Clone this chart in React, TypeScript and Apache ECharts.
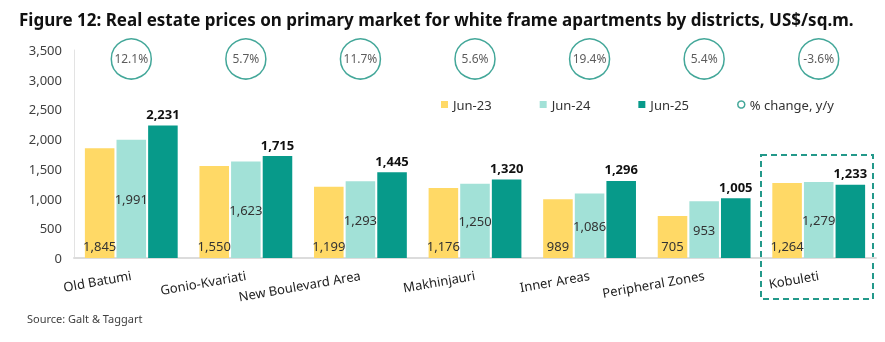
import React, { useEffect, useRef } from "react";
import * as echarts from "echarts";

const categories = ["Old Batumi", "Gonio-Kvariati", "New Boulevard Area", "Makhinjauri", "Inner Areas", "Peripheral Zones", "Kobuleti"];
const jun23 = [1845, 1550, 1199, 1176, 989, 705, 1264];
const jun24 = [1991, 1623, 1293, 1250, 1086, 953, 1279];
const jun25 = [2231, 1715, 1445, 1320, 1296, 1005, 1233];
const pctChange = ["12.1%", "5.7%", "11.7%", "5.6%", "19.4%", "5.4%", "-3.6%"];
const circleLevel = 3350;

const FONT = "Noto Sans";
const CIRCLE = "#14917F";
const fmt = (v: number) => v.toLocaleString("en-US");

export default function App() {
  const ref = useRef<HTMLDivElement>(null);
  useEffect(() => {
    if (!ref.current) return;
    const chart = echarts.init(ref.current, null, { renderer: "svg" });
    chart.setOption({
      animation: false,
      textStyle: { fontFamily: FONT },
      title: {
        text: "Figure 12: Real estate prices on primary market for white frame apartments by districts, US$/sq.m.",
        left: 14,
        top: 6,
        textStyle: { fontFamily: FONT, fontSize: 17, fontWeight: "bold", color: "#111" },
      },
      legend: {
        left: 436,
        top: 93,
        itemWidth: 7,
        itemHeight: 7,
        itemGap: 48,
        textStyle: { fontSize: 13, color: "#333", fontFamily: FONT },
        data: [
          { name: "Jun-23", icon: "rect" },
          { name: "Jun-24", icon: "rect" },
          { name: "Jun-25", icon: "rect" },
          { name: "% change, y/y", icon: "circle", itemStyle: { color: "#fff", borderColor: CIRCLE, borderWidth: 1.5 } },
        ],
      },
      grid: { left: 74, right: 9, top: 50, bottom: 84, containLabel: false },
      xAxis: {
        type: "category",
        data: categories,
        axisLine: { show: true, lineStyle: { color: "#dcdcdc", width: 2 } },
        axisTick: { show: false },
        axisLabel: { rotate: 10, fontSize: 13, color: "#222", margin: 17, interval: 0 },
      },
      yAxis: {
        type: "value",
        min: 0,
        max: 3500,
        interval: 500,
        axisLine: { show: true, lineStyle: { color: "#e3e3e3", width: 1 } },
        axisTick: { show: false },
        splitLine: { show: false },
        axisLabel: { fontSize: 13, color: "#404040", margin: 12, formatter: (v: number) => fmt(v) },
      },
      series: [
        {
          name: "Jun-23",
          type: "bar",
          data: jun23,
          barGap: "7%",
          barCategoryGap: "19%",
          itemStyle: { color: "#FFD966" },
          label: { show: true, position: "insideBottom", distance: 6, fontSize: 13, color: "#333", formatter: (p: any) => fmt(p.value) },
        },
        {
          name: "Jun-24",
          type: "bar",
          data: jun24,
          barGap: "7%",
          barCategoryGap: "19%",
          itemStyle: { color: "#A2E1D7" },
          label: { show: true, position: "inside", fontSize: 13, color: "#333", formatter: (p: any) => fmt(p.value) },
        },
        {
          name: "Jun-25",
          type: "bar",
          data: jun25,
          barGap: "7%",
          barCategoryGap: "19%",
          itemStyle: { color: "#079A8A" },
          label: { show: true, position: "top", distance: 5, fontSize: 13, fontWeight: "bold", color: "#111", formatter: (p: any) => fmt(p.value) },
        },
        {
          name: "% change, y/y",
          type: "scatter",
          clip: false,
          symbol: "circle",
          symbolSize: 40,
          data: pctChange.map((_, i) => [i, circleLevel]),
          itemStyle: { color: "#fff", borderColor: CIRCLE, borderWidth: 1.5 },
          label: { show: true, position: "inside", fontSize: 12, color: "#333", formatter: (p: any) => pctChange[p.dataIndex] },
          z: 5,
        },
      ],
      graphic: [
        {
          type: "rect",
          shape: { x: 761, y: 155, width: 112, height: 144 },
          style: { fill: "none", stroke: "#23998A", lineWidth: 2, lineDash: [6, 4] },
        },
        {
          type: "text",
          left: 27,
          top: 313,
          style: { text: "Source: Galt & Taggart", fontSize: 11, fill: "#404040", fontFamily: FONT },
        },
      ],
    });
    return () => chart.dispose();
  }, []);
  return <div ref={ref} style={{ position: "fixed", left: 0, top: 0, width: 885, height: 342 }} />;
}
